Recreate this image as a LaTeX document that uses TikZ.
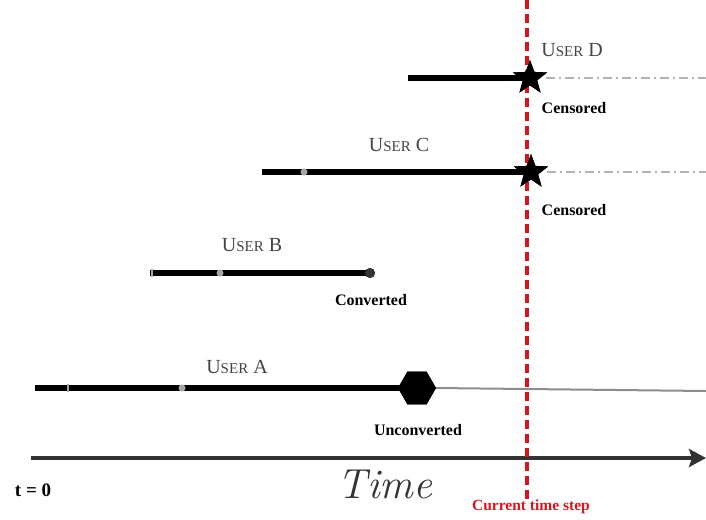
\documentclass[tikz,border=0pt]{standalone}
\usepackage{fontspec}
\newfontfamily\tms{Liberation Serif}
\usetikzlibrary{shapes.geometric,arrows.meta}
\definecolor{stepred}{HTML}{D7161C}
\definecolor{axisgray}{HTML}{333333}
\definecolor{labgray}{HTML}{444444}
\newcommand{\fakesc}[2]{#1{\fontsize{15}{18}\selectfont #2}}
\tikzset{
  userline/.style={line width=6.5pt,black},
  censline/.style={line width=1.6pt,color=black!30,dash pattern=on 9pt off 4pt on 2pt off 4pt},
  startar/.style={star,star points=5,star point ratio=2.4,fill=black,draw=none,minimum size=36pt,inner sep=0pt},
  hexa/.style={regular polygon,regular polygon sides=6,fill=black,draw=none,minimum size=38pt,inner sep=0pt},
  enddot/.style={circle,fill=black!80,draw=none,minimum size=10pt,inner sep=0pt},
  evdot/.style={circle,fill=black!35,draw=none,minimum size=7pt,inner sep=0pt},
  evtick/.style={rectangle,fill=black!35,draw=none,minimum width=1.2pt,minimum height=8pt,inner sep=0pt},
  userlab/.style={font=\tms\fontsize{20}{24}\selectfont,text=labgray},
  statlab/.style={font=\tms\bfseries\fontsize{16}{19}\selectfont},
}
\begin{document}
\begin{tikzpicture}[x=1pt,y=-1pt]
\useasboundingbox (0,0) rectangle (706,519);
% current time step line
\coordinate (redtop) at (527,0);
\coordinate (redbot) at (527,500);
% Time axis
\coordinate (ax0) at (31,458);
\coordinate (ax1) at (706,458);
\draw[axisgray,line width=4pt,-{Stealth[length=17pt,width=18pt,inset=3pt]}] (ax0) -- (ax1);
\node[font=\tms\bfseries\fontsize{19}{22}\selectfont] (t0) at (33,490) {t = 0};
\node[font=\itshape\fontsize{42}{48}\selectfont,text=axisgray] (timelab) at (385,484) {Time};
\node[font=\tms\bfseries\fontsize{15.5}{18}\selectfont,text=stepred] (curlab) at (531,507) {Current time step};

% User A
\coordinate (a0) at (35,388);
\coordinate (aend) at (706,391);
\node[hexa] (hexA) at (417,388) {};
\draw[black!45,line width=2pt] (hexA.east) -- (aend);
\draw[userline] (a0) -- (hexA.center);
\node[evtick] (atick) at (68,388) {};
\node[evdot] (adot) at (182,388) {};
\node[hexa] at (hexA) {};
\node[userlab] (labA) at (237,367) {\fakesc{U}{SER} A};
\node[statlab] (unc) at (418,430) {Unconverted};

% User B
\coordinate (b0) at (150,273);
\node[enddot] (bend) at (370,273) {};
\draw[userline] (b0) -- (bend.center);
\node[enddot] at (bend) {};
\node[evtick] (btick) at (152,273) {};
\node[evdot] (bdot) at (220,273) {};
\node[userlab] (labB) at (252,245) {\fakesc{U}{SER} B};
\node[statlab] (conv) at (371,300) {Converted};

% User C
\coordinate (c0) at (262,172);
\coordinate (cend) at (706,172);
\node[startar] (starC) at (531,172) {};
\draw[censline] (starC.center) ++(16,0) -- (cend);
\draw[userline] (c0) -- (starC.center);
\node[evdot] (cdot) at (304,172) {};

% User D
\coordinate (d0) at (408,78);
\coordinate (dend) at (706,78);
\node[startar] (starD) at (530,78) {};
\draw[censline] (starD.center) ++(16,0) -- (dend);
\draw[userline] (d0) -- (starD.center);

% red dashed line
\draw[stepred,line width=3.5pt,dash pattern=on 9pt off 5pt] (redtop) -- (redbot);

\node[startar] at (starC) {};
\node[startar] at (starD) {};
\node[userlab] (labC) at (399,145) {\fakesc{U}{SER} C};
\node[statlab] (censC) at (574,210) {Censored};
\node[userlab] (labD) at (572,50) {\fakesc{U}{SER} D};
\node[statlab] (censD) at (574,108) {Censored};
\end{tikzpicture}
\end{document}
